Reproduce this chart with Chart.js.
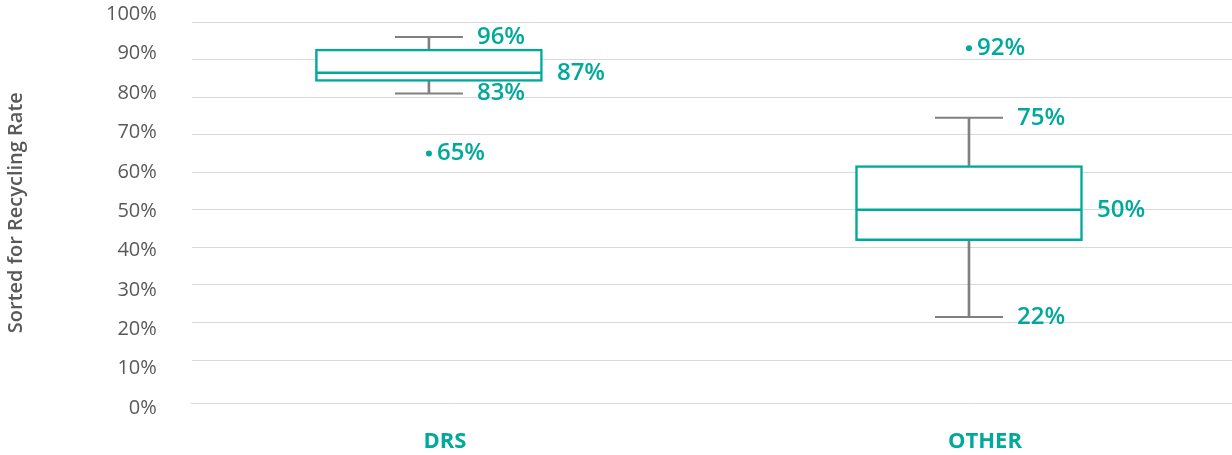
<!DOCTYPE html>
<html>
<head>
<meta charset="utf-8">
<script src="https://cdn.jsdelivr.net/npm/chart.js@4.4.1/dist/chart.umd.min.js"></script>
<style>
  html, body { margin: 0; padding: 0; background: #fff; }
  #wrap { width: 1232px; height: 455px; position: relative; }
</style>
</head>
<body>
<div id="wrap"><canvas id="chart"></canvas></div>
<script>
// box plot stats, in percent
const categories = ['DRS', 'OTHER'];
const whiskerLow = [81, 21.5];
const quartile1 = [84.2, 41.8];
const median = [86.5, 50];
const quartile3 = [92.8, 61.8];
const whiskerHigh = [96, 74.5];
const outliers = [65, 93];

// label texts as printed on the chart
const lowLabels = ['83%', '22%'];
const medianLabels = ['87%', '50%'];
const highLabels = ['96%', '75%'];
const outlierLabels = ['65%', '92%'];

// y axis ticks
const yTicks = [0, 10, 20, 30, 40, 50, 60, 70, 80, 90, 100];

const teal = '#00a99c';
const grey = '#808080';

Chart.defaults.font.family = '"Open Sans", sans-serif';

// value labels next to whiskers, medians and outliers
const boxLabels = {
  id: 'boxLabels',
  afterDatasetsDraw(chart) {
    const { ctx, scales: { x, y } } = chart;
    ctx.save();
    ctx.fillStyle = teal;
    ctx.font = '600 24px "Open Sans"';
    ctx.textAlign = 'left';
    ctx.textBaseline = 'middle';
    categories.forEach((c, i) => {
      const cx = x.getPixelForValue(i);
      ctx.fillText(highLabels[i], cx + 48, y.getPixelForValue(whiskerHigh[i]));
      ctx.fillText(lowLabels[i], cx + 48, y.getPixelForValue(whiskerLow[i]));
      ctx.fillText(medianLabels[i], cx + 128, y.getPixelForValue(median[i]));
      ctx.fillText(outlierLabels[i], cx + 8, y.getPixelForValue(outliers[i]));
    });
    ctx.restore();
  }
};

const idx = categories.map((c, i) => i);

new Chart(document.getElementById('chart'), {
  type: 'bar',
  data: {
    datasets: [
      {
        // the box (q1..q3)
        data: idx.map(i => ({ x: i, y: [quartile1[i], quartile3[i]] })),
        backgroundColor: '#ffffff',
        borderColor: teal,
        borderWidth: 2.5,
        borderSkipped: false,
        barThickness: 227,
        grouped: false,
        order: 3,
        yAxisID: 'y'
      },
      {
        // upper stem
        data: idx.map(i => ({ x: i, y: [quartile3[i], whiskerHigh[i]] })),
        backgroundColor: grey,
        borderWidth: 0,
        barThickness: 2,
        grouped: false,
        order: 4,
        yAxisID: 'y'
      },
      {
        // lower stem
        data: idx.map(i => ({ x: i, y: [whiskerLow[i], quartile1[i]] })),
        backgroundColor: grey,
        borderWidth: 0,
        barThickness: 2,
        grouped: false,
        order: 4,
        yAxisID: 'y'
      },
      {
        // whisker caps
        type: 'scatter',
        data: idx.flatMap(i => [{ x: i, y: whiskerHigh[i] }, { x: i, y: whiskerLow[i] }]),
        pointStyle: 'line',
        pointRadius: 34,
        pointBorderColor: grey,
        pointBorderWidth: 2,
        order: 2,
        yAxisID: 'y'
      },
      {
        // median
        type: 'scatter',
        data: idx.map(i => ({ x: i, y: median[i] })),
        pointStyle: 'line',
        pointRadius: 112,
        pointBorderColor: teal,
        pointBorderWidth: 2.5,
        order: 1,
        yAxisID: 'y'
      },
      {
        // outliers
        type: 'scatter',
        data: idx.map(i => ({ x: i, y: outliers[i] })),
        pointStyle: 'circle',
        pointRadius: 3,
        pointBackgroundColor: teal,
        pointBorderWidth: 0,
        order: 1,
        yAxisID: 'y'
      }
    ]
  },
  options: {
    responsive: true,
    maintainAspectRatio: false,
    animation: false,
    events: [],
    layout: { autoPadding: false, padding: { top: 22, bottom: -24.7, left: 0, right: 0 } },
    plugins: {
      legend: { display: false },
      tooltip: { enabled: false }
    },
    scales: {
      x: {
        type: 'linear',
        offset: false,
        min: -0.439,
        max: 1.487,
        afterBuildTicks: s => { s.ticks = idx.map(i => ({ value: i })); },
        ticks: {
          callback: v => categories[v],
          color: teal,
          font: { size: 22, weight: 'bold' },
          padding: 25,
          labelOffset: 16,
          autoSkip: false,
          maxRotation: 0
        },
        grid: { display: false, drawTicks: false, offset: false },
        border: { display: true, color: '#d9d9d9', width: 1 }
      },
      y: {
        type: 'linear',
        position: 'left',
        min: -1.5,
        max: 100,
        afterBuildTicks: s => { s.ticks = yTicks.filter(v => v > 0).map(v => ({ value: v })); },
        ticks: { display: false },
        grid: { color: '#d9d9d9', drawTicks: false },
        border: { display: false }
      },
      yLabels: {
        axis: 'y',
        type: 'linear',
        position: 'left',
        min: 1.2,
        max: 98.07,
        afterBuildTicks: s => { s.ticks = yTicks.map(v => ({ value: v })); },
        ticks: {
          callback: v => v + '%',
          color: '#595959',
          font: { size: 20 },
          padding: 3,
          autoSkip: false
        },
        grid: { display: true, color: 'rgba(0,0,0,0)', drawOnChartArea: false, drawTicks: true, tickLength: 32 },
        border: { display: false },
        title: {
          display: true,
          text: 'Sorted for Recycling Rate',
          color: '#595959',
          font: { size: 20, weight: '600' },
          padding: { top: 4, bottom: 75 }
        }
      }
    }
  },
  plugins: [boxLabels]
});
</script>
</body>
</html>
